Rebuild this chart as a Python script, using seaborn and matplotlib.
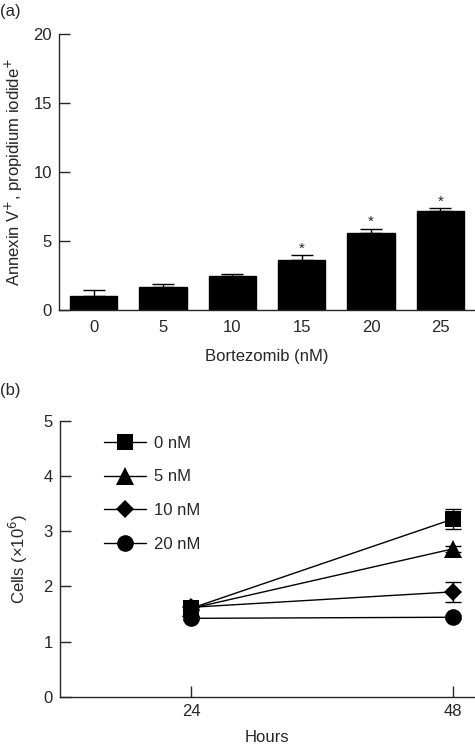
import numpy as np
import pandas as pd
import matplotlib.pyplot as plt
import seaborn as sns
from matplotlib.lines import Line2D

# panel (a) data
doses = ["0", "5", "10", "15", "20", "25"]
annexin = [1.0, 1.65, 2.45, 3.6, 5.6, 7.2]
annexin_err = [0.45, 0.25, 0.15, 0.4, 0.3, 0.18]
significant = [False, False, False, True, True, True]

# panel (b) data
hours = [24, 48]
series_labels = ["0 nM", "5 nM", "10 nM", "20 nM"]
series_markers = ["s", "^", "D", "o"]
marker_sizes = [12, 13, 9.5, 12]
cells_0 = [1.6, 3.22]
cells_5 = [1.6, 2.68]
cells_10 = [1.62, 1.9]
cells_20 = [1.42, 1.44]
err_0 = [0.03, 0.18]
err_5 = [0.03, 0.05]
err_10 = [0.03, 0.18]
err_20 = [0.03, 0.04]

sns.set_style("ticks")
plt.rcParams["font.family"] = ["Liberation Sans", "DejaVu Sans"]
plt.rcParams["font.size"] = 12
plt.rcParams["axes.linewidth"] = 1.0
plt.rcParams["xtick.direction"] = "in"
plt.rcParams["ytick.direction"] = "in"

fig = plt.figure(figsize=(4.75, 7.47), dpi=100)

# ---- panel (a): bar chart
ax1 = fig.add_axes([0.124, 0.585, 0.876, 0.3695])
df_a = pd.DataFrame({"dose": doses, "value": annexin})
sns.barplot(data=df_a, x="dose", y="value", color="black", width=0.68,
            errorbar=None, ax=ax1, edgecolor="black", saturation=1)
xs = np.arange(len(doses))
ax1.errorbar(xs, annexin, yerr=[np.zeros(len(doses)), annexin_err], fmt="none",
             ecolor="black", elinewidth=1, capsize=8, capthick=1)
for x, v, e, s in zip(xs, annexin, annexin_err, significant):
    if s:
        ax1.text(x, v + e - 0.05, "*", ha="center", va="bottom", fontsize=11)
ax1.set_xlim(-0.5, 5.5)
ax1.set_ylim(0, 20)
ax1.set_yticks([0, 5, 10, 15, 20])
ax1.tick_params(axis="x", length=0, pad=7)
ax1.tick_params(axis="y", length=8, width=1, pad=5)
ax1.set_xlabel("Bortezomib (nM)", labelpad=10)
ax1.set_ylabel("Annexin V$^{+}$, propidium iodide$^{+}$", labelpad=6)
sns.despine(ax=ax1)
fig.text(0.0, 0.995, "(a)", ha="left", va="top", fontsize=12)

# ---- panel (b): line chart
ax2 = fig.add_axes([0.126, 0.0673, 0.874, 0.3695])
all_vals = [cells_0, cells_5, cells_10, cells_20]
all_errs = [err_0, err_5, err_10, err_20]
for lab, vals, errs, m, ms in reversed(list(zip(series_labels, all_vals, all_errs,
                                                series_markers, marker_sizes))):
    df_s = pd.DataFrame({"hours": hours, "cells": vals})
    ax2.errorbar(hours, vals, yerr=errs, fmt="none", ecolor="black",
                 elinewidth=1, capsize=6, capthick=1, zorder=1)
    sns.lineplot(data=df_s, x="hours", y="cells", color="black", marker=m,
                 markersize=ms, linewidth=1, markeredgewidth=0, ax=ax2)
ax2.set_xlim(12, 50)
ax2.set_ylim(0, 5)
ax2.set_xticks(hours)
ax2.set_yticks([0, 1, 2, 3, 4, 5])
ax2.tick_params(length=8, width=1)
ax2.tick_params(axis="x", pad=5)
ax2.tick_params(axis="y", pad=5)
ax2.set_xlabel("Hours", labelpad=8)
ax2.set_ylabel("Cells (×10$^{6}$)", labelpad=10)
sns.despine(ax=ax2)
handles = [Line2D([0], [0], color="black", lw=1, marker=m, markersize=ms,
                  markeredgewidth=0) for m, ms in zip(series_markers, marker_sizes)]
ax2.legend(handles, series_labels, loc="upper left", bbox_to_anchor=(0.07, 1.0),
           frameon=False, handlelength=2.5, labelspacing=1.12, handletextpad=0.5,
           fontsize=12)
fig.text(0.0, 0.487, "(b)", ha="left", va="top", fontsize=12)

fig.savefig("out.png", dpi=100)
